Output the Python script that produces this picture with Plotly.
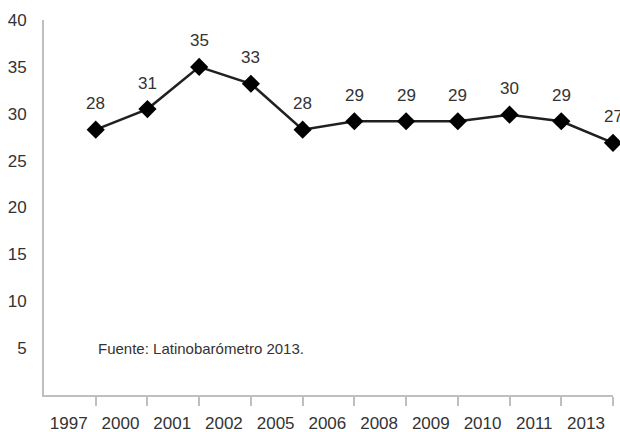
import plotly.graph_objects as go

years = ["1997", "2000", "2001", "2002", "2005", "2006", "2008", "2009", "2010", "2011", "2013"]
values = [28.3, 30.5, 35.0, 33.2, 28.3, 29.2, 29.2, 29.2, 29.9, 29.2, 26.9]
labels = ["28", "31", "35", "33", "28", "29", "29", "29", "30", "29", "27"]
y_ticks = [5, 10, 15, 20, 25, 30, 35, 40]

font = dict(family="Liberation Sans, Arial, sans-serif", size=17, color="#333333")

fig = go.Figure(
    go.Scatter(
        x=years,
        y=values,
        mode="lines+markers",
        line=dict(color="#231f20", width=2.5),
        marker=dict(symbol="diamond", size=14, color="#000000"),
        cliponaxis=False,
        hoverinfo="x+y",
    )
)

# value labels above each point (category index used as x)
for i, (v, lab) in enumerate(zip(values, labels)):
    fig.add_annotation(
        x=i, y=v, text=lab, showarrow=False,
        yanchor="middle", yshift=26, font=font,
    )

fig.update_layout(
    width=620,
    height=432,
    margin=dict(l=44, r=7, t=20, b=37),
    plot_bgcolor="white",
    paper_bgcolor="white",
    showlegend=False,
    font=font,
)

fig.update_xaxes(
    type="category",
    range=[-1, 10],
    automargin=False,
    showline=True,
    linecolor="#bfbfbf",
    linewidth=2,
    ticks="outside",
    ticklen=9,
    tickwidth=2,
    tickcolor="#bfbfbf",
    ticklabelshift=-27,
    ticklabelstandoff=3,
    showgrid=False,
    zeroline=False,
)

fig.update_yaxes(
    range=[0, 40],
    automargin=False,
    tickvals=y_ticks,
    showline=True,
    linecolor="#bfbfbf",
    linewidth=2,
    ticks="",
    ticklabelstandoff=12,
    showgrid=False,
    zeroline=False,
)

fig.add_annotation(
    text="Fuente: Latinobarómetro 2013.",
    x=0, xref="x", xanchor="left",
    y=5, yref="y", yanchor="middle",
    showarrow=False,
    font=dict(family="Liberation Sans, Arial, sans-serif", size=15, color="#333333"),
)

# drop the default body margin so the figure fills the window exactly
fig.write_html(
    "out.html",
    config={"displayModeBar": False},
    post_script="document.body.style.margin='0';document.body.style.overflow='hidden';",
)
